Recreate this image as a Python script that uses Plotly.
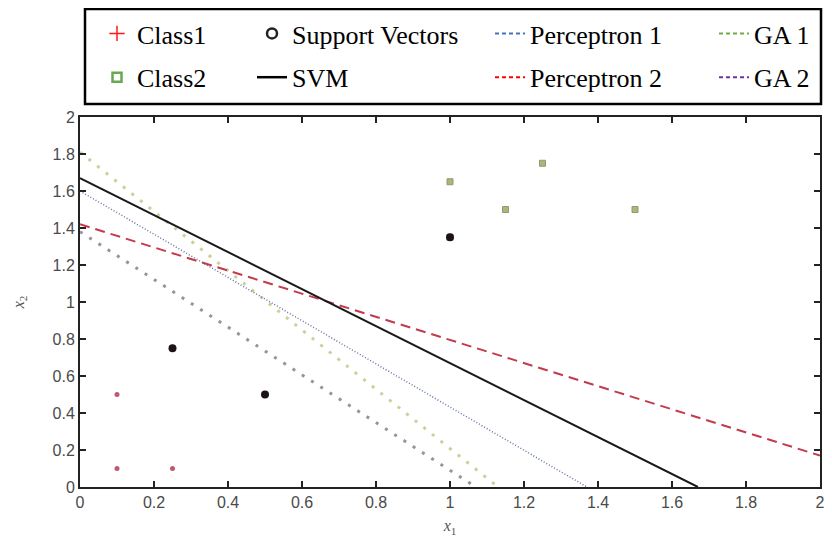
import plotly.graph_objects as go

# ---- data ----
class1_x = [0.1, 0.1, 0.25, 0.25, 0.5]
class1_y = [0.5, 0.1, 0.1, 0.75, 0.5]
class2_x = [1.0, 1.15, 1.25, 1.5, 1.0]
class2_y = [1.65, 1.5, 1.75, 1.5, 1.35]
sv_x = [0.25, 0.5, 1.0]
sv_y = [0.75, 0.5, 1.35]
svm_x = [0, 1.67]
svm_y = [1.67, 0]
perc1_x = [0, 1.37]
perc1_y = [1.6, 0]
perc2_x = [0, 2]
perc2_y = [1.42, 0.17]
ga1_x = [0, 1.13]
ga1_y = [1.81, 0]
ga2_x = [0, 1.07]
ga2_y = [1.38, 0]
tick_vals = [0, 0.2, 0.4, 0.6, 0.8, 1, 1.2, 1.4, 1.6, 1.8, 2]
tick_text = ["0", "0.2", "0.4", "0.6", "0.8", "1", "1.2", "1.4", "1.6", "1.8", "2"]

fig = go.Figure()

# ---- plotted marks (legend entries are separate) ----
fig.add_trace(go.Scatter(x=ga1_x, y=ga1_y, mode="lines", showlegend=False,
                         line=dict(color="#c9d196", width=3, dash="3px,8px")))
fig.add_trace(go.Scatter(x=ga2_x, y=ga2_y, mode="lines", showlegend=False,
                         line=dict(color="#9b919f", width=3, dash="3px,8px")))
fig.add_trace(go.Scatter(x=perc1_x, y=perc1_y, mode="lines", showlegend=False,
                         line=dict(color="#6576a0", width=1.5, dash="1px,2px")))
fig.add_trace(go.Scatter(x=perc2_x, y=perc2_y, mode="lines", showlegend=False,
                         line=dict(color="#c23a4c", width=2, dash="10px,6px")))
fig.add_trace(go.Scatter(x=svm_x, y=svm_y, mode="lines", showlegend=False,
                         line=dict(color="#1a1a1a", width=2)))
fig.add_trace(go.Scatter(x=class1_x, y=class1_y, mode="markers", showlegend=False,
                         marker=dict(symbol="circle", size=5, color="#c25870",
                                     line=dict(width=0))))
fig.add_trace(go.Scatter(x=class2_x, y=class2_y, mode="markers", showlegend=False,
                         marker=dict(symbol="square", size=6, color="#aeb380",
                                     line=dict(width=1, color="#949a68"))))
fig.add_trace(go.Scatter(x=sv_x, y=sv_y, mode="markers", showlegend=False,
                         marker=dict(symbol="circle", size=8, color="#1c1414",
                                     line=dict(width=0))))

# ---- legend entries (styled as in the reference legend) ----
def leg_entry(name, legend, **kw):
    fig.add_trace(go.Scatter(x=[None], y=[None], name=name, legend=legend,
                             legendgroup=name, **kw))

leg_entry("Class1", "legend", mode="markers",
          marker=dict(symbol="cross-thin", size=11, line=dict(color="#ff1a1a", width=1.5)))
leg_entry("Class2", "legend", mode="markers",
          marker=dict(symbol="square-open", size=9, color="#6aa84f", line=dict(width=2.5)))
leg_entry("Support Vectors", "legend2", mode="markers",
          marker=dict(symbol="circle-open", size=10, color="#222", line=dict(width=2.5)))
leg_entry("SVM", "legend2", mode="lines", line=dict(color="black", width=2.5))
leg_entry("Perceptron 1", "legend3", mode="lines",
          line=dict(color="#4472c4", width=2, dash="4px,3px"))
leg_entry("Perceptron 2", "legend3", mode="lines",
          line=dict(color="#ff0000", width=2, dash="4px,3px"))
leg_entry("GA 1", "legend4", mode="lines",
          line=dict(color="#70ad47", width=2, dash="4px,3px"))
leg_entry("GA 2", "legend4", mode="lines",
          line=dict(color="#7030a0", width=2, dash="4px,3px"))

# page has an 8px body margin: figure is 824x536 so it fits in the 832x544 window
leg_font = dict(family="Liberation Serif", size=26, color="black")
def leg(xpx):
    return dict(x=(xpx - 80) / 740, xanchor="left", y=(487 - 10) / 370, yanchor="top",
                bgcolor="rgba(0,0,0,0)", borderwidth=0, font=leg_font,
                tracegroupgap=7, traceorder="grouped")

fig.update_layout(
    width=824, height=536,
    margin=dict(l=72, r=12, t=109, b=57, autoexpand=False),
    paper_bgcolor="white", plot_bgcolor="white",
    showlegend=True,
    legend=leg(97),
    legend2=leg(252),
    legend3=leg(490),
    legend4=leg(714),
    font=dict(family="Liberation Sans, Arial", size=16, color="#444"),
)

axis_common = dict(
    range=[0, 2], tickvals=tick_vals, ticktext=tick_text,
    ticks="inside", ticklen=6, tickwidth=1.5, tickcolor="#222",
    showline=True, linecolor="#222", linewidth=2, mirror="ticks",
    showgrid=False, zeroline=False, automargin=False,
    tickfont=dict(family="Liberation Sans, Arial", size=16, color="#4a4a4a"),
)
fig.update_xaxes(**axis_common,
                 title=dict(text="<i>x</i><sub>1</sub>", standoff=10,
                            font=dict(family="Liberation Serif", size=16, color="#555")))
fig.update_yaxes(**axis_common,
                 title=dict(text="<i>x</i><sub>2</sub>", standoff=24,
                            font=dict(family="Liberation Serif", size=16, color="#555")))

# legend frame
fig.add_shape(type="rect", xref="paper", yref="paper",
              x0=(85 - 80) / 740, x1=(821 - 80) / 740,
              y0=(487 - 104) / 370, y1=(487 - 9) / 370,
              line=dict(color="black", width=2.5), fillcolor="rgba(0,0,0,0)", layer="above")

fig.write_html("out.html")
